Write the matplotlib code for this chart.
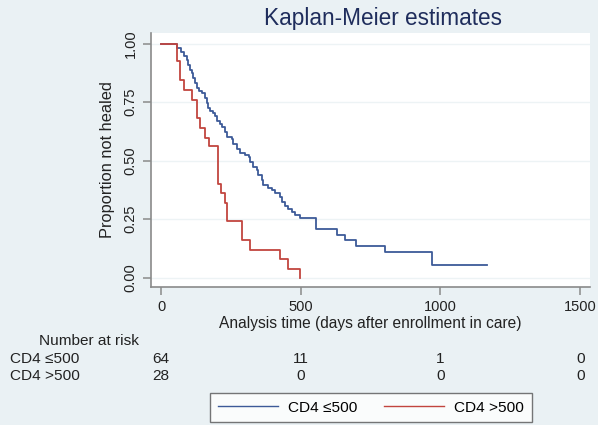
import matplotlib.pyplot as plt
from matplotlib.transforms import blended_transform_factory

plt.rcParams['font.family'] = ['Liberation Sans', 'DejaVu Sans']

# Kaplan-Meier steps (days, proportion not healed)
low_t = [0, 56, 70, 82, 92, 98, 104, 110, 116, 122, 128, 134, 146, 158, 164,
         169, 175, 187, 193, 199, 211, 218, 229, 235, 253, 259, 271, 283, 301,
         313, 319, 330, 343, 348, 360, 366, 384, 396, 408, 426, 433, 444, 456,
         468, 480, 498, 553, 629, 659, 698, 802, 969, 1168]
low_s = [1.0, 0.982, 0.964, 0.946, 0.931, 0.910, 0.889, 0.875, 0.853, 0.832,
         0.810, 0.796, 0.789, 0.768, 0.746, 0.725, 0.711, 0.703, 0.689, 0.668,
         0.659, 0.643, 0.624, 0.602, 0.592, 0.573, 0.552, 0.531, 0.523, 0.516,
         0.495, 0.473, 0.459, 0.438, 0.416, 0.395, 0.385, 0.374, 0.360, 0.345,
         0.323, 0.308, 0.295, 0.280, 0.267, 0.253, 0.207, 0.184, 0.163, 0.135,
         0.109, 0.054, 0.054]

high_t = [0, 56, 68, 82, 110, 128, 140, 157, 173, 202, 214, 229, 237, 289,
          319, 426, 456, 497]
high_s = [1.0, 0.925, 0.846, 0.803, 0.760, 0.682, 0.639, 0.596, 0.561, 0.402,
          0.362, 0.319, 0.242, 0.163, 0.120, 0.081, 0.039, 0.0]

risk_times = [0, 500, 1000, 1500]
risk_low = [64, 11, 1, 0]
risk_high = [28, 0, 0, 0]
labels = ['CD4 \u2264500', 'CD4 >500']

blue = '#3d5a98'
red = '#c2453f'
grey = '#8a8a8a'
txt = '#222222'

fig = plt.figure(figsize=(5.98, 4.25), dpi=100, facecolor='#eaf1f4')
ax = fig.add_axes([151 / 598, 1 - 287 / 425, 439 / 598, 254 / 425])
ax.set_facecolor('white')

ax.step(low_t, low_s, where='post', color=blue, lw=1.3, label=labels[0])
ax.step(high_t, high_s, where='post', color=red, lw=1.3, label=labels[1])

ax.set_xlim(-36, 1535)
ax.set_ylim(-0.04, 1.046)
ax.set_xticks([0, 500, 1000, 1500])
ax.set_yticks([0, 0.25, 0.5, 0.75, 1.0])
ax.set_yticklabels(['0.00', '0.25', '0.50', '0.75', '1.00'], rotation=90,
                   va='center')
ax.grid(axis='y', color='#edf3f5', lw=1.0)
ax.set_axisbelow(True)

for side in ['top', 'right']:
    ax.spines[side].set_visible(False)
for side in ['left', 'bottom']:
    ax.spines[side].set_color(grey)
    ax.spines[side].set_linewidth(1.2)
ax.tick_params(colors=grey, labelcolor=txt, labelsize=10.5, length=6,
               width=1.1)

ax.set_ylabel('Proportion not healed', fontsize=11.8, color=txt, labelpad=6)
ax.set_xlabel('Analysis time (days after enrollment in care)', fontsize=11.2,
              color=txt, labelpad=1)
fig.text(383 / 598, 1 - 18 / 425, 'Kaplan-Meier estimates', ha='center',
         va='center', fontsize=16.3, color='#1f2d5c')

# number at risk table
tr = blended_transform_factory(ax.transData, fig.transFigure)
fig.text(89 / 598, 1 - 341 / 425, 'Number at risk', ha='center', va='center',
         fontsize=11.1, color=txt)
for row, (lab, vals) in enumerate(zip(labels, [risk_low, risk_high])):
    y = 1 - (359 + 17 * row) / 425
    fig.text(10 / 598, y, lab, ha='left', va='center', fontsize=11.1,
             color=txt)
    for t, v in zip(risk_times, vals):
        fig.text(t, y, str(v), transform=tr, ha='center', va='center',
                 fontsize=11.1, color=txt)

leg = fig.legend(loc='center', bbox_to_anchor=(371 / 598, 1 - 407.5 / 425),
                 ncol=2, fontsize=11.1, handlelength=3.9, columnspacing=1.75,
                 handletextpad=0.65, frameon=True, fancybox=False,
                 borderpad=0.5)
leg.get_frame().set_edgecolor('#555555')
leg.get_frame().set_linewidth(1.0)
for line in leg.get_lines():
    line.set_linewidth(1.0)

fig.savefig('out.png', dpi=100, facecolor=fig.get_facecolor())
